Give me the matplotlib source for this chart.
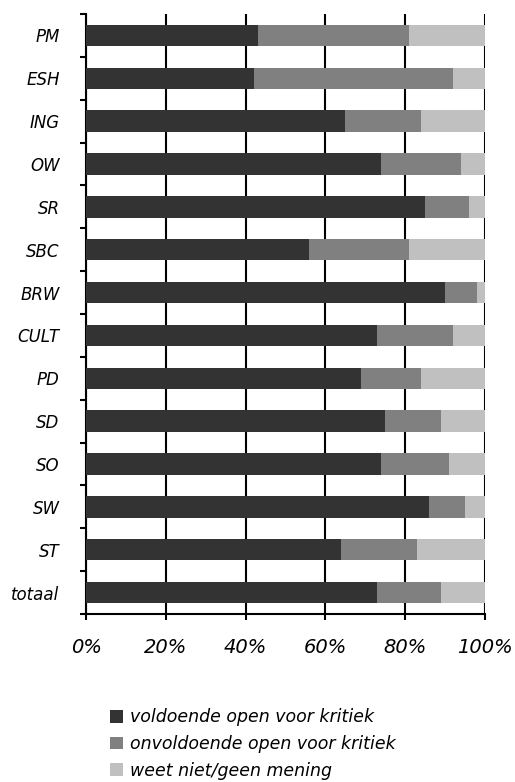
import matplotlib
matplotlib.use("Agg")
import matplotlib.pyplot as plt
from matplotlib.patches import Patch
import numpy as np

categories = ["PM", "ESH", "ING", "OW", "SR", "SBC", "BRW", "CULT",
              "PD", "SD", "SO", "SW", "ST", "totaal"]
voldoende = [43, 42, 65, 74, 85, 56, 90, 73, 69, 75, 74, 86, 64, 73]
onvoldoende = [38, 50, 19, 20, 11, 25, 8, 19, 15, 14, 17, 9, 19, 16]
weet_niet = [19, 8, 16, 6, 4, 19, 2, 8, 16, 11, 9, 5, 17, 11]

series = [
    ("voldoende open voor kritiek", voldoende, "#333333"),
    ("onvoldoende open voor kritiek", onvoldoende, "#808080"),
    ("weet niet/geen mening", weet_niet, "#c0c0c0"),
]

plt.rcParams["font.family"] = ["DejaVu Sans"]
plt.rcParams["font.style"] = "italic"

fig = plt.figure(figsize=(5.15, 7.82), dpi=100)
ax = fig.add_axes([86 / 515, 1 - 614 / 782, 399 / 515, 600 / 782])

y = np.arange(len(categories))
left = np.zeros(len(categories))
for name, vals, col in series:
    ax.barh(y, vals, left=left, height=0.5, color=col, zorder=3)
    left += np.array(vals)

ax.set_xlim(0, 100)
ax.set_ylim(len(categories) - 0.5, -0.5)

# vertical gridlines behind the bars
ax.set_xticks(np.arange(0, 101, 20))
ax.set_xticklabels([f"{v}%" for v in range(0, 101, 20)], fontsize=14)
ax.grid(axis="x", color="black", linewidth=1.5, zorder=0)
ax.tick_params(axis="x", direction="out", length=4.5, width=1.5, pad=13)

# category ticks sit between bars, labels at bar centres
ax.set_yticks(np.arange(-0.5, len(categories)), labels=[""] * (len(categories) + 1))
ax.set_yticks(y, labels=categories, minor=True)
ax.tick_params(axis="y", which="major", direction="out", length=4.5, width=1.5)
ax.tick_params(axis="y", which="minor", length=0, pad=19, labelsize=12)

for s in ["top", "right"]:
    ax.spines[s].set_visible(False)
for s in ["left", "bottom"]:
    ax.spines[s].set_linewidth(1.5)

handles = [Patch(facecolor=c, edgecolor="none", label=n) for n, _, c in series]
fig.legend(handles=handles, loc="center left", bbox_to_anchor=(110 / 515, 1 - 744 / 782),
           frameon=False, fontsize=12.5, handlelength=0.75, handleheight=0.75,
           handletextpad=0.4, labelspacing=0.5, borderpad=0, borderaxespad=0)

fig.savefig("out.png", dpi=100)
